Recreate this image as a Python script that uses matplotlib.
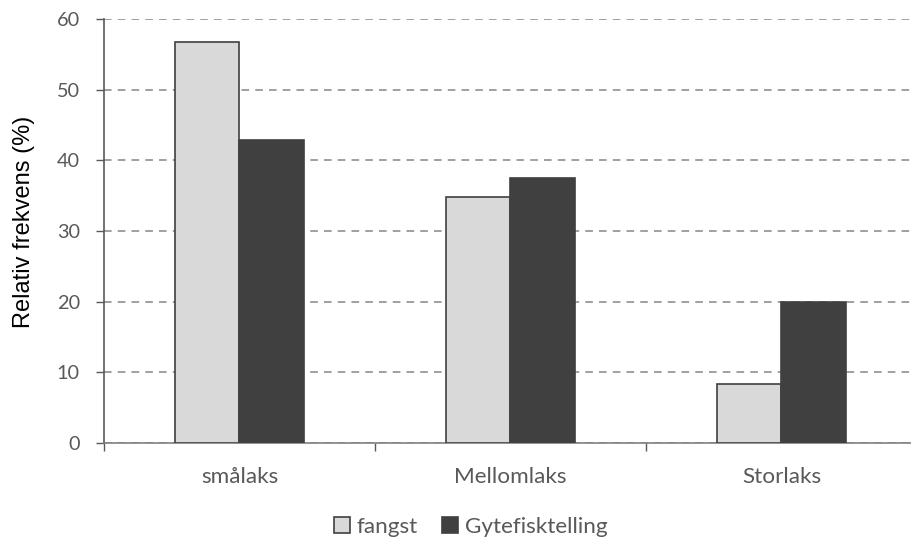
import numpy as np
import matplotlib.pyplot as plt

# data
kategorier = ["smålaks", "Mellomlaks", "Storlaks"]
fangst = [56.8, 34.8, 8.3]
gytefisk = [42.9, 37.5, 19.9]
yticks = [0, 10, 20, 30, 40, 50, 60]

plt.rcParams['font.family'] = ['Lato', 'DejaVu Sans']

fig = plt.figure(figsize=(9.12, 5.4), dpi=100)
# høyre kant går litt utenfor bildet, som i originalen
ax = fig.add_axes([104/912, 97/540, 813/912, 424/540])

x = np.arange(len(kategorier))
w = 0.238
ax.bar(x - w/2, fangst, w, color='#d9d9d9', edgecolor='#404040', linewidth=1.2,
       label='fangst', zorder=3)
ax.bar(x + w/2, gytefisk, w, color='#404040', edgecolor='#404040', linewidth=1.2,
       label='Gytefisktelling', zorder=3)

ax.set_xlim(-0.5, 2.5)
ax.set_ylim(0, 60)
ax.set_yticks(yticks)
ax.yaxis.grid(True, linestyle=(0, (5, 4)), color='#868686', linewidth=1.1, zorder=0)
ax.tick_params(axis='y', labelsize=14.3, length=5.5, width=1,
               color='#595959', labelcolor='#595959', pad=12)

# kategorier i midten, tick-streker på grensene
ax.set_xticks(x)
ax.set_xticklabels(kategorier, fontsize=16.2, color='#595959')
ax.tick_params(axis='x', length=0, pad=17)
ax.set_xticks([-0.5, 0.5, 1.5, 2.5], minor=True)
ax.tick_params(axis='x', which='minor', length=6, width=1, color='#595959')

for s in ['top', 'right']:
    ax.spines[s].set_visible(False)
ax.spines['left'].set_color('#595959')
ax.spines['bottom'].set_color('#808080')
ax.spines['left'].set_linewidth(1.2)
ax.spines['bottom'].set_linewidth(1.2)

ax.set_ylabel("Relativ frekvens (%)", fontsize=17, family=['Liberation Sans'],
              color='#000000')
ax.yaxis.set_label_coords(-0.085, 0.521)

fig.legend(loc='center', bbox_to_anchor=(0.516, 0.024), ncol=2, frameon=False,
           fontsize=16.2, handlelength=0.7, handleheight=0.7, handletextpad=0.3,
           columnspacing=1.1, labelcolor='#595959', borderpad=0)

fig.savefig('out.png', dpi=100)
